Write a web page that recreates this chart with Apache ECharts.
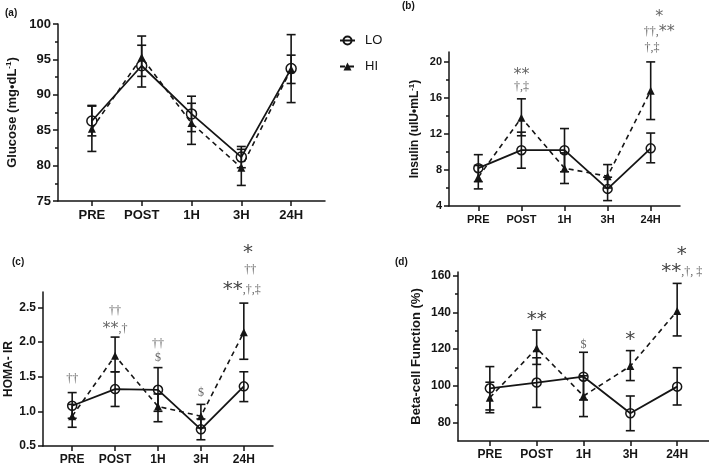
<!DOCTYPE html>
<html><head><meta charset="utf-8">
<script src="https://cdn.jsdelivr.net/npm/echarts@6/dist/echarts.min.js"></script>
<style>html,body{margin:0;padding:0;background:#fff}#c{width:709px;height:466px}</style>
</head><body><div id="c"></div>
<script>
const categories = ['PRE', 'POST', '1H', '3H', '24H'];

// (a) Glucose
const gluLO = [86.3, 94.1, 87.3, 81.2, 93.7];
const gluLOlow = [84.2, 91.1, 84.8, 79.7, 91.6];
const gluLOhigh = [88.5, 97.0, 89.8, 82.7, 95.6];
const gluHI = [85.2, 95.3, 86.0, 79.7, 93.6];
const gluHIlow = [82.0, 92.6, 83.0, 77.2, 88.9];
const gluHIhigh = [88.4, 98.3, 88.8, 82.3, 98.5];
const gluTicks = [75, 80, 85, 90, 95, 100];
const gluMinor = [77.5, 82.5, 87.5, 92.5, 97.5];

// (b) Insulin
const insLO = [8.2, 10.2, 10.2, 5.9, 10.4];
const insLOlow = [6.7, 8.2, 7.8, 4.6, 8.8];
const insLOhigh = [9.7, 12.2, 12.6, 7.2, 12.1];
const insHI = [7.2, 13.8, 8.2, 7.3, 16.8];
const insHIlow = [5.9, 11.8, 6.5, 6.0, 13.6];
const insHIhigh = [8.5, 15.9, 9.9, 8.6, 20.0];
const insTicks = [4, 8, 12, 16, 20];
const insMinor = [6, 10, 14, 18];

// (c) HOMA-IR
const homaLO = [1.08, 1.32, 1.31, 0.74, 1.36];
const homaLOlow = [0.90, 1.07, 1.00, 0.59, 1.14];
const homaLOhigh = [1.27, 1.57, 1.63, 0.89, 1.57];
const homaHI = [0.93, 1.80, 1.07, 0.93, 2.14];
const homaHIlow = [0.77, 1.57, 0.85, 0.76, 1.75];
const homaHIhigh = [1.10, 2.07, 1.25, 1.10, 2.56];
const homaTicks = [0.5, 1.0, 1.5, 2.0, 2.5];

// (d) Beta-cell function
const betaLO = [98.7, 101.8, 105.0, 85.1, 99.6];
const betaLOlow = [86.9, 88.3, 92.3, 75.6, 89.6];
const betaLOhigh = [110.5, 115.3, 118.3, 94.5, 109.9];
const betaHI = [93.6, 120.5, 94.5, 110.8, 140.8];
const betaHIlow = [85.4, 111.7, 83.3, 102.9, 127.2];
const betaHIhigh = [102.0, 130.4, 105.5, 119.2, 155.8];
const betaTicks = [80, 100, 120, 140, 160];
const betaMinor = [90, 110, 130, 150];

// significance annotations: [x index, y value, text]
const annB = [[1, 18.6, '{k|**}'], [1, 17.2, '{d|†,‡}'], [4.2, 25.0, '{k|*}'], [4.2, 23.3, '{d|††,}{k|**}'], [4.03, 21.6, '{d|†,‡}']];
const annC = [[0, 1.47, '{d|††}'], [1, 2.45, '{d|††}'], [1, 2.19, '{k|**}{d|,†}'], [2, 1.97, '{d|††}'], [2, 1.77, '{d|$}'], [3, 1.26, '{d|$}'], [4.1, 3.28, '{K|*}'], [4.15, 3.04, '{d|††}'], [3.95, 2.75, '{K|**}{d|,†,‡}']];
const annD = [[1, 135.9, '{K|**}'], [2, 122.3, '{d|$}'], [3, 125.0, '{K|*}'], [4.1, 171.3, '{K|*}'], [4.1, 162.0, '{K|**}{d|,†, ‡}']];

const FONT = 'Liberation Sans, Arial, sans-serif';
const INK = '#151515';

const grids = [
  {left: 58, top: 24, width: 267, height: 177},
  {left: 449, top: 52, width: 231, height: 154},
  {left: 43, top: 292, width: 230, height: 154},
  {left: 458, top: 272, width: 251, height: 169}
];
const yRanges = [[75, 100], [4, 21.1], [0.5, 2.72], [70, 162]];
const yTicks = [gluTicks, insTicks, homaTicks, betaTicks];
const yMinor = [gluMinor, insMinor, [], betaMinor];
const yFmt = [v => String(v), v => String(v), v => v.toFixed(1), v => String(v)];
const labelSize = [13, 11, 12, 12];
const yNames = [
  '{a|Glucose (mg•dL}{s|-1}{a|)}',
  '{a|Insulin (uIU•mL}{s|-1}{a|)}',
  '{a|HOMA- IR}',
  '{a|Beta-cell Function (%)}'
];
const nameSize = [13, 12, 12, 13];
const nameGaps = [38, 27, 27, 34];

const xAxes = [], yAxes = [], series = [];
grids.forEach((g, i) => {
  xAxes.push({
    type: 'value', gridIndex: i, min: -0.68, max: 4.68,
    axisLine: {onZero: false, lineStyle: {color: INK, width: 1.5}},
    axisTick: {customValues: [0, 1, 2, 3, 4], length: 5, lineStyle: {color: INK, width: 1.5}},
    axisLabel: {customValues: [0, 1, 2, 3, 4], formatter: v => categories[Math.round(v)], color: INK,
      fontWeight: 'bold', fontSize: labelSize[i], fontFamily: FONT, margin: 8},
    splitLine: {show: false}
  });
  yAxes.push({
    type: 'value', gridIndex: i, min: yRanges[i][0], max: yRanges[i][1], position: 'left',
    name: yNames[i], nameLocation: 'middle', nameGap: nameGaps[i],
    nameTextStyle: {rich: {
      a: {fontSize: nameSize[i], fontWeight: 'bold', fontFamily: FONT, color: INK, lineHeight: nameSize[i] + 2},
      s: {fontSize: 8, fontWeight: 'bold', fontFamily: FONT, color: INK, verticalAlign: 'top', lineHeight: 8}
    }},
    axisLine: {show: true, onZero: false, lineStyle: {color: INK, width: 1.5}},
    axisTick: {show: true, customValues: yTicks[i], length: 5, lineStyle: {color: INK, width: 1.5}},
    axisLabel: {customValues: yTicks[i], formatter: yFmt[i], color: INK, fontWeight: 'bold',
      fontSize: labelSize[i], fontFamily: FONT, margin: 7},
    splitLine: {show: false}
  });
});
// minor tick axes
grids.forEach((g, i) => {
  yAxes.push({
    type: 'value', gridIndex: i, min: yRanges[i][0], max: yRanges[i][1], position: 'left', offset: 0,
    axisLine: {show: false, onZero: false},
    axisTick: {show: yMinor[i].length > 0, customValues: yMinor[i].length ? yMinor[i] : [yRanges[i][0]], length: 3, lineStyle: {color: INK, width: 1.5}},
    axisLabel: {show: false},
    splitLine: {show: false}
  });
});

function errSeries(idx, low, high) {
  return {
    type: 'custom', xAxisIndex: idx, yAxisIndex: idx, z: 1, silent: true,
    data: low.map((v, k) => [k, v, high[k]]),
    encode: {x: 0, y: [1, 2]},
    renderItem: (params, api) => {
      const x = api.value(0);
      const p1 = api.coord([x, api.value(1)]);
      const p2 = api.coord([x, api.value(2)]);
      const w = 4.5;
      const st = {stroke: INK, lineWidth: 1.6};
      return {type: 'group', children: [
        {type: 'line', shape: {x1: p1[0], y1: p1[1], x2: p2[0], y2: p2[1]}, style: st},
        {type: 'line', shape: {x1: p1[0] - w, y1: p1[1], x2: p1[0] + w, y2: p1[1]}, style: st},
        {type: 'line', shape: {x1: p2[0] - w, y1: p2[1], x2: p2[0] + w, y2: p2[1]}, style: st}
      ]};
    }
  };
}
function loSeries(idx, vals, size) {
  return {
    name: 'LO', type: 'line', xAxisIndex: idx, yAxisIndex: idx, z: 3,
    data: vals.map((v, k) => [k, v]),
    symbol: 'circle', symbolSize: size,
    lineStyle: {color: INK, width: 1.8, type: 'solid'},
    itemStyle: {color: 'rgba(255,255,255,0)', borderColor: INK, borderWidth: 1.5}
  };
}
function hiSeries(idx, vals) {
  return {
    name: 'HI', type: 'line', xAxisIndex: idx, yAxisIndex: idx, z: 2,
    data: vals.map((v, k) => [k, v]),
    symbol: 'triangle', symbolSize: 8,
    lineStyle: {color: INK, width: 1.6, type: [5, 4]},
    itemStyle: {color: INK}
  };
}
function annSeries(idx, ann, kSize, KSize, dSize) {
  return {
    type: 'custom', xAxisIndex: idx, yAxisIndex: idx, z: 5, silent: true, clip: false,
    data: ann.map(a => [a[0], a[1]]),
    renderItem: (params, api) => {
      const p = api.coord([api.value(0), api.value(1)]);
      return {type: 'text', x: p[0], y: p[1], style: {
        text: ann[params.dataIndex][2], textAlign: 'center', textVerticalAlign: 'middle',
        rich: {
          k: {fontSize: kSize, fontFamily: 'DejaVu Sans, sans-serif', fill: '#666', lineHeight: kSize},
          K: {fontSize: KSize, fontFamily: 'DejaVu Sans, sans-serif', fill: '#444', lineHeight: KSize},
          d: {fontSize: dSize, fontFamily: 'Liberation Serif, DejaVu Serif, serif', fill: '#666', lineHeight: dSize}
        }
      }};
    }
  };
}

const sets = [
  [gluLO, gluLOlow, gluLOhigh, gluHI, gluHIlow, gluHIhigh, 10],
  [insLO, insLOlow, insLOhigh, insHI, insHIlow, insHIhigh, 9],
  [homaLO, homaLOlow, homaLOhigh, homaHI, homaHIlow, homaHIhigh, 9],
  [betaLO, betaLOlow, betaLOhigh, betaHI, betaHIlow, betaHIhigh, 9]
];
sets.forEach((s, i) => {
  series.push(errSeries(i, s[1], s[2]));
  series.push(errSeries(i, s[4], s[5]));
  series.push(hiSeries(i, s[3]));
  series.push(loSeries(i, s[0], s[6]));
});
series.push(annSeries(1, annB, 16, 18, 12));
series.push(annSeries(2, annC, 16, 20, 12));
series.push(annSeries(3, annD, 16, 20, 12));

const chart = echarts.init(document.getElementById('c'), null, {renderer: 'canvas'});
chart.setOption({
  animation: false,
  backgroundColor: '#fff',
  grid: grids.map(g => Object.assign({containLabel: false}, g)),
  xAxis: xAxes,
  yAxis: yAxes,
  legend: {
    data: ['LO', 'HI'], orient: 'vertical', left: 334, top: 29,
    itemWidth: 15, itemHeight: 10, itemGap: 13,
    textStyle: {fontSize: 13, fontFamily: FONT, color: INK, padding: [0, 0, 0, 5]}
  },
  graphic: [
    {type: 'text', left: 5, top: 8, style: {text: '(a)', font: 'bold 10px ' + FONT, fill: INK}},
    {type: 'text', left: 402, top: 1, style: {text: '(b)', font: 'bold 10px ' + FONT, fill: INK}},
    {type: 'text', left: 12, top: 257, style: {text: '(c)', font: 'bold 10px ' + FONT, fill: INK}},
    {type: 'text', left: 395, top: 257, style: {text: '(d)', font: 'bold 10px ' + FONT, fill: INK}}
  ],
  series: series
});
</script></body></html>
